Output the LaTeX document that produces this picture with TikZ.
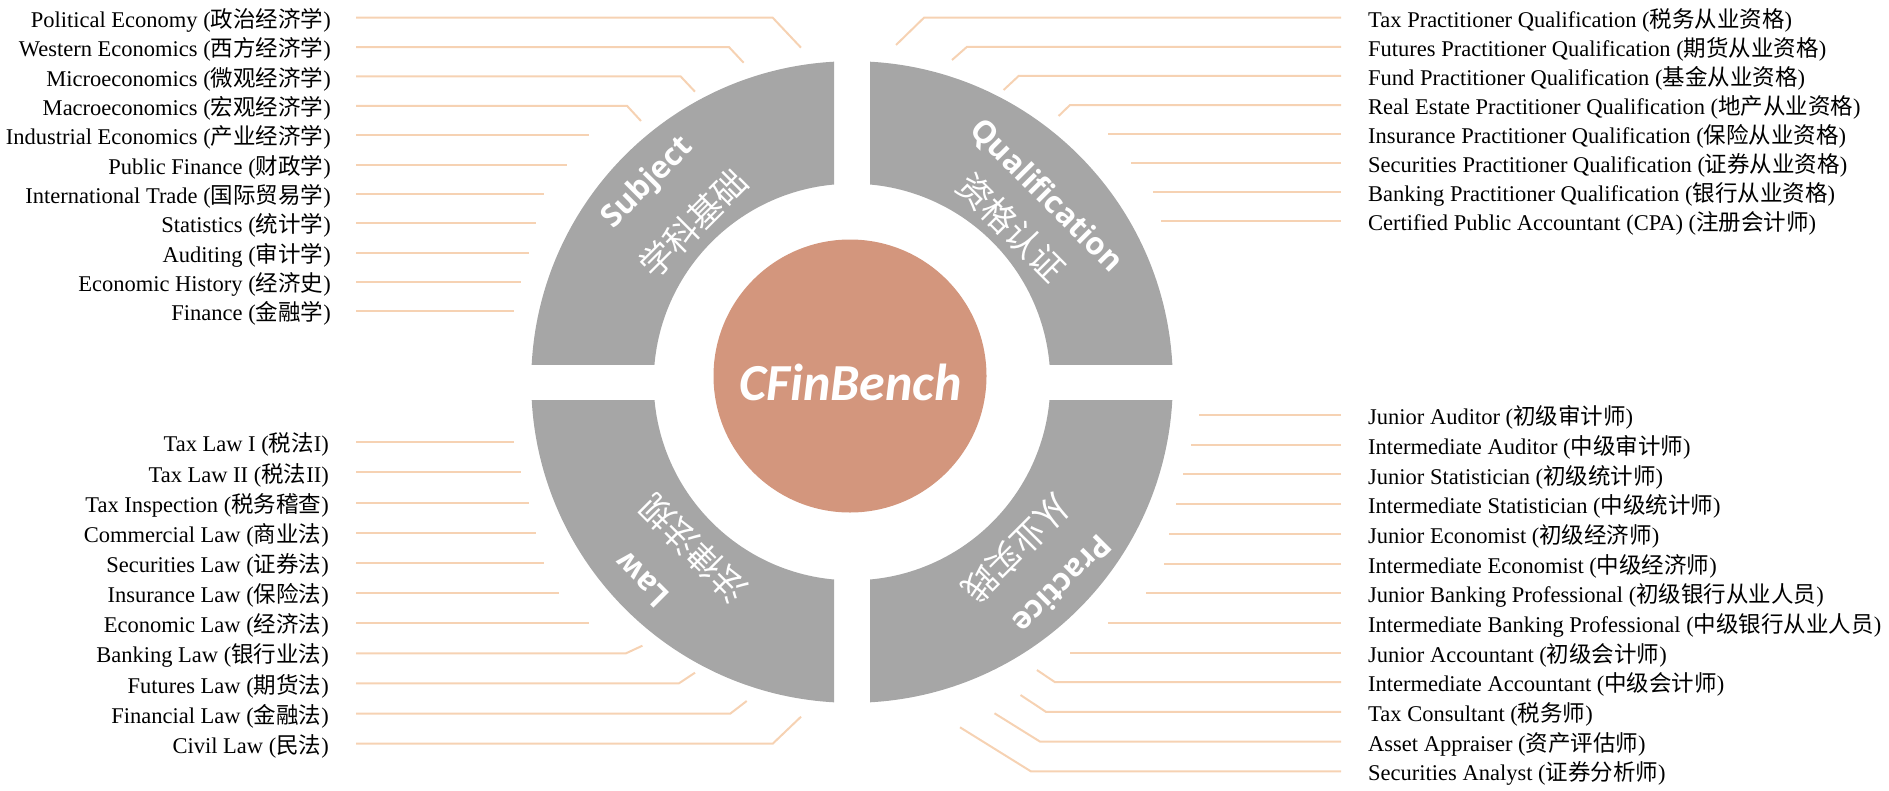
\documentclass[tikz,border=0pt]{standalone}
\usepackage{fontspec}
\setmainfont{Liberation Serif}
\newfontfamily\cjk{Noto Sans CJK SC}
\newfontfamily\ringfont{Open Sans}
\newfontfamily\benchfont{Carlito}
\newcommand\zh[1]{{\cjk #1}}
\definecolor{ringgray}{HTML}{A6A6A6}
\definecolor{corecol}{HTML}{D3967D}
\definecolor{leadcol}{HTML}{F6D2B3}
\tikzset{
  lbl/.style={inner sep=0pt, font=\fontsize{22.5}{27}\selectfont},
  leader/.style={draw=leadcol, line width=2pt},
  ringtxt/.style={inner sep=0pt, text=white, font=\ringfont\bfseries\fontsize{31}{31}\selectfont},
  ringzh/.style={inner sep=0pt, text=white, font=\cjk\fontsize{34}{34}\selectfont},
}
\begin{document}
\begin{tikzpicture}[x=1pt,y=-1pt]
\useasboundingbox (0,0) rectangle (1889,790);
% ring quadrants
\foreach \ax/\ay/\bx/\by in {0/0/834/364, 870/0/1889/364, 0/400/834/790, 870/400/1889/790}{
  \begin{scope}
    \clip (\ax,\ay) rectangle (\bx,\by);
    \fill[ringgray, even odd rule] (852,382) circle[radius=320.8pt] (852,382) circle[radius=198.3pt];
  \end{scope}
}
% core
\node[circle, fill=corecol, minimum size=273pt, inner sep=0pt] (core) at (850,376) {};
\node[anchor=base, inner sep=0pt, text=white, font=\benchfont\bfseries\itshape\fontsize{52}{52}\selectfont] (title) at (850.5,400) {CFinBench};
% ring labels
\node[ringtxt, rotate=45] (subj) at (648,183) {Subject};
\node[ringzh, rotate=45] (subjzh) at (693,223) {学科基础};
\node[ringtxt, rotate=-45] (qual) at (1046,196) {Qualification};
\node[ringzh, rotate=-45] (qualzh) at (1012,227) {资格认证};
\node[ringtxt, rotate=135] (law) at (642,580) {Law};
\node[ringzh, rotate=135] (lawzh) at (693,549) {法律法规};
\node[ringtxt, rotate=-135] (prac) at (1063,585) {Practice};
\node[ringzh, rotate=-135] (praczh) at (1017,549) {从业实践};
% left top
\foreach \y/\xb/\xe/\ye/\t [count=\i] in {
  17.7/772.7/801/47.7/{Political Economy (\zh{政治经济学})},
  47.1/729/743.6/62.7/{Western Economics (\zh{西方经济学})},
  76.4/680.6/695/91.7/{Microeconomics (\zh{微观经济学})},
  105.8/627/641/121/{Macroeconomics (\zh{宏观经济学})},
  135.1/589/589/135.1/{Industrial Economics (\zh{产业经济学})},
  164.5/566.7/566.7/164.5/{Public Finance (\zh{财政学})},
  193.9/544/544/193.9/{International Trade (\zh{国际贸易学})},
  223.2/536.4/536.4/223.2/{Statistics (\zh{统计学})},
  252.6/529/529/252.6/{Auditing (\zh{审计学})},
  281.9/521/521/281.9/{Economic History (\zh{经济史})},
  311.3/514/514/311.3/{Finance (\zh{金融学})}}{
  \node[lbl, anchor=base east] (LT\i) at (331,\y+9.6) {\t};
  \coordinate (LTs\i) at (356,\y);
  \coordinate (LTb\i) at (\xb,\y);
  \coordinate (LTe\i) at (\xe,\ye);
  \draw[leader] (LTs\i) -- (LTb\i) -- (LTe\i);
}
% left bottom
\foreach \y/\xb/\xe/\ye/\t [count=\i] in {
  442.3/514/514/442.3/{Tax Law I (\zh{税法}I)},
  472.4/521/521/472.4/{Tax Law II (\zh{税法}II)},
  502.6/529/529/502.6/{Tax Inspection (\zh{税务稽查})},
  532.7/536.4/536.4/532.7/{Commercial Law (\zh{商业法})},
  562.9/544/544/562.9/{Securities Law (\zh{证券法})},
  593/558.8/558.8/593/{Insurance Law (\zh{保险法})},
  623.1/589/589/623.1/{Economic Law (\zh{经济法})},
  653.3/626/642.4/645.7/{Banking Law (\zh{银行业法})},
  683.4/678.8/695/672.7/{Futures Law (\zh{期货法})},
  713.6/730.3/746.7/701/{Financial Law (\zh{金融法})},
  743.7/772.7/801/716.7/{Civil Law (\zh{民法})}}{
  \node[lbl, anchor=base east] (LB\i) at (329,\y+9.6) {\t};
  \coordinate (LBs\i) at (356,\y);
  \coordinate (LBb\i) at (\xb,\y);
  \coordinate (LBe\i) at (\xe,\ye);
  \draw[leader] (LBs\i) -- (LBb\i) -- (LBe\i);
}
% right top
\foreach \y/\xb/\xe/\ye/\t [count=\i] in {
  17.7/924/896/45/{Tax Practitioner Qualification (\zh{税务从业资格})},
  46.8/967/952/60/{Futures Practitioner Qualification (\zh{期货从业资格})},
  75.9/1018.7/1003.6/90/{Fund Practitioner Qualification (\zh{基金从业资格})},
  105/1070/1058.6/116/{Real Estate Practitioner Qualification (\zh{地产从业资格})},
  134.1/1108/1108/134.1/{Insurance Practitioner Qualification (\zh{保险从业资格})},
  163.2/1130.7/1130.7/163.2/{Securities Practitioner Qualification (\zh{证券从业资格})},
  192.2/1153/1153/192.2/{Banking Practitioner Qualification (\zh{银行从业资格})},
  221.3/1161/1161/221.3/{Certified Public Accountant (CPA) (\zh{注册会计师})}}{
  \node[lbl, anchor=base west] (RT\i) at (1368,\y+9.6) {\t};
  \coordinate (RTs\i) at (1341,\y);
  \coordinate (RTb\i) at (\xb,\y);
  \coordinate (RTe\i) at (\xe,\ye);
  \draw[leader] (RTs\i) -- (RTb\i) -- (RTe\i);
}
% right bottom
\foreach \y/\xb/\xe/\ye/\t [count=\i] in {
  415/1199/1199/415/{Junior Auditor (\zh{初级审计师})},
  444.7/1191/1191/444.7/{Intermediate Auditor (\zh{中级审计师})},
  474.4/1183.3/1183.3/474.4/{Junior Statistician (\zh{初级统计师})},
  504.1/1176/1176/504.1/{Intermediate Statistician (\zh{中级统计师})},
  533.8/1168.8/1168.8/533.8/{Junior Economist (\zh{初级经济师})},
  563.5/1164/1164/563.5/{Intermediate Economist (\zh{中级经济师})},
  593.1/1145.8/1145.8/593.1/{Junior Banking Professional (\zh{初级银行从业人员})},
  622.8/1108.3/1108.3/622.8/{Intermediate Banking Professional (\zh{中级银行从业人员})},
  652.5/1070/1070/652.5/{Junior Accountant (\zh{初级会计师})},
  682.2/1055/1036.9/670/{Intermediate Accountant (\zh{中级会计师})},
  711.9/1046/1020.5/695/{Tax Consultant (\zh{税务师})},
  741.6/1040/994.5/713.3/{Asset Appraiser (\zh{资产评估师})},
  771.3/1030.8/960/727.3/{Securities Analyst (\zh{证券分析师})}}{
  \node[lbl, anchor=base west] (RB\i) at (1368,\y+9.6) {\t};
  \coordinate (RBs\i) at (1341,\y);
  \coordinate (RBb\i) at (\xb,\y);
  \coordinate (RBe\i) at (\xe,\ye);
  \draw[leader] (RBs\i) -- (RBb\i) -- (RBe\i);
}
\end{tikzpicture}
\end{document}
